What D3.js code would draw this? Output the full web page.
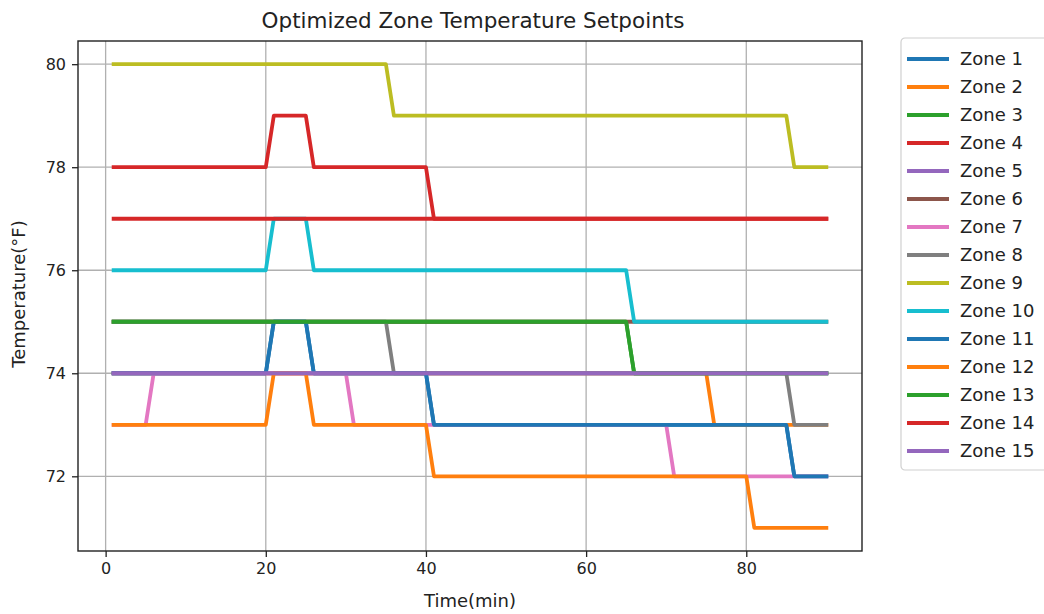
<!DOCTYPE html>
<html>
<head>
<meta charset="utf-8">
<script src="https://cdn.jsdelivr.net/npm/d3@7"></script>
<style>
  body { margin: 0; background: #fff; }
  text { font-family: "DejaVu Sans", sans-serif; fill: #222; }
</style>
</head>
<body>
<div id="chart"></div>
<script>
// time steps (minutes)
const times = d3.range(1, 91)

const zoneNames = ["Zone 1", "Zone 2", "Zone 3", "Zone 4", "Zone 5", "Zone 6", "Zone 7", "Zone 8",
  "Zone 9", "Zone 10", "Zone 11", "Zone 12", "Zone 13", "Zone 14", "Zone 15"]

// setpoint values, one per minute (1..90), written as runs [value, count]
const zone1 = [[74, 20], [75, 5], [74, 15], [73, 45], [72, 5]]
const zone2 = [[74, 75], [73, 15]]
const zone3 = [[75, 65], [74, 25]]
const zone4 = [[78, 20], [79, 5], [78, 15], [77, 50]]
const zone5 = [[74, 90]]
const zone6 = [[75, 90]]
const zone7 = [[73, 5], [74, 25], [73, 40], [72, 20]]
const zone8 = [[75, 35], [74, 50], [73, 5]]
const zone9 = [[80, 35], [79, 50], [78, 5]]
const zone10 = [[76, 20], [77, 5], [76, 40], [75, 25]]
const zone11 = [[74, 20], [75, 5], [74, 15], [73, 45], [72, 5]]
const zone12 = [[73, 20], [74, 5], [73, 15], [72, 40], [71, 10]]
const zone13 = [[75, 65], [74, 25]]
const zone14 = [[77, 90]]
const zone15 = [[74, 90]]

const xTicks = [0, 20, 40, 60, 80]
const yTicks = [72, 74, 76, 78, 80]

const colors = ["#1f77b4", "#ff7f0e", "#2ca02c", "#d62728", "#9467bd", "#8c564b", "#e377c2",
  "#7f7f7f", "#bcbd22", "#17becf"]

const runs = [zone1, zone2, zone3, zone4, zone5, zone6, zone7, zone8, zone9, zone10,
  zone11, zone12, zone13, zone14, zone15]

const expand = r => r.flatMap(([v, n]) => Array(n).fill(v))
const series = runs.map((r, i) => {
  const vals = expand(r)
  return { name: zoneNames[i], color: colors[i % 10], values: times.map((t, j) => ({ t, v: vals[j] })) }
})

const W = 1044, H = 614
const MARGIN = { TOP: 41, LEFT: 78, RIGHT: 862, BOTTOM: 551 }

const svg = d3.select("#chart").append("svg")
  .attr("width", W).attr("height", H)

const x = d3.scaleLinear().domain([-3.45, 94.45]).range([MARGIN.LEFT, MARGIN.RIGHT])
const y = d3.scaleLinear().domain([70.55, 80.45]).range([MARGIN.BOTTOM, MARGIN.TOP])

// grid
svg.append("g").selectAll("line").data(xTicks).join("line")
  .attr("x1", d => x(d)).attr("x2", d => x(d))
  .attr("y1", MARGIN.TOP).attr("y2", MARGIN.BOTTOM)
  .attr("stroke", "#b0b0b0").attr("stroke-width", 1.3)
svg.append("g").selectAll("line").data(yTicks).join("line")
  .attr("y1", d => y(d)).attr("y2", d => y(d))
  .attr("x1", MARGIN.LEFT).attr("x2", MARGIN.RIGHT)
  .attr("stroke", "#b0b0b0").attr("stroke-width", 1.3)

// lines
const line = d3.line().x(d => x(d.t)).y(d => y(d.v))
svg.append("g").selectAll("path").data(series).join("path")
  .attr("d", d => line(d.values))
  .attr("fill", "none")
  .attr("stroke", d => d.color)
  .attr("stroke-width", 3.8)
  .attr("stroke-linecap", "square")
  .attr("stroke-linejoin", "round")

// axes
const xAxis = svg.append("g")
  .attr("transform", `translate(0, ${MARGIN.BOTTOM})`)
  .call(d3.axisBottom(x).tickValues(xTicks).tickSize(6).tickPadding(6).tickSizeOuter(0))
const yAxis = svg.append("g")
  .attr("transform", `translate(${MARGIN.LEFT}, 0)`)
  .call(d3.axisLeft(y).tickValues(yTicks).tickSize(6).tickPadding(6).tickSizeOuter(0))
;[xAxis, yAxis].forEach(g => {
  g.select(".domain").remove()
  g.selectAll("text").style("font-family", "DejaVu Sans, sans-serif").style("font-size", "16px").attr("fill", "#222")
  g.selectAll("line").attr("stroke", "#222").attr("stroke-width", 1.3)
})

// frame
svg.append("rect")
  .attr("x", MARGIN.LEFT).attr("y", MARGIN.TOP)
  .attr("width", MARGIN.RIGHT - MARGIN.LEFT).attr("height", MARGIN.BOTTOM - MARGIN.TOP)
  .attr("fill", "none").attr("stroke", "#222").attr("stroke-width", 1.4)

// titles
svg.append("text")
  .attr("x", (MARGIN.LEFT + MARGIN.RIGHT) / 2 + 3).attr("y", 28)
  .attr("text-anchor", "middle").style("font-size", "21.5px")
  .text("Optimized Zone Temperature Setpoints")
svg.append("text")
  .attr("x", (MARGIN.LEFT + MARGIN.RIGHT) / 2).attr("y", 607)
  .attr("text-anchor", "middle").style("font-size", "18px")
  .text("Time(min)")
svg.append("text")
  .attr("transform", `translate(25, ${(MARGIN.TOP + MARGIN.BOTTOM) / 2 - 2}) rotate(-90)`)
  .attr("text-anchor", "middle").style("font-size", "18px")
  .text("Temperature(°F)")

// legend
const legend = svg.append("g").attr("transform", "translate(901, 38)")
legend.append("rect")
  .attr("x", 0).attr("y", 0).attr("width", 150).attr("height", 432).attr("rx", 4)
  .attr("fill", "#fff").attr("stroke", "#d0d0d0").attr("stroke-width", 1.2)
const item = legend.selectAll("g.item").data(series).join("g")
  .attr("class", "item")
  .attr("transform", (d, i) => `translate(0, ${21 + i * 28})`)
item.append("line")
  .attr("x1", 6).attr("x2", 48)
  .attr("stroke", d => d.color).attr("stroke-width", 3.8)
item.append("text")
  .attr("x", 59).attr("dy", "0.35em")
  .style("font-size", "18px")
  .text(d => d.name)
</script>
</body>
</html>
